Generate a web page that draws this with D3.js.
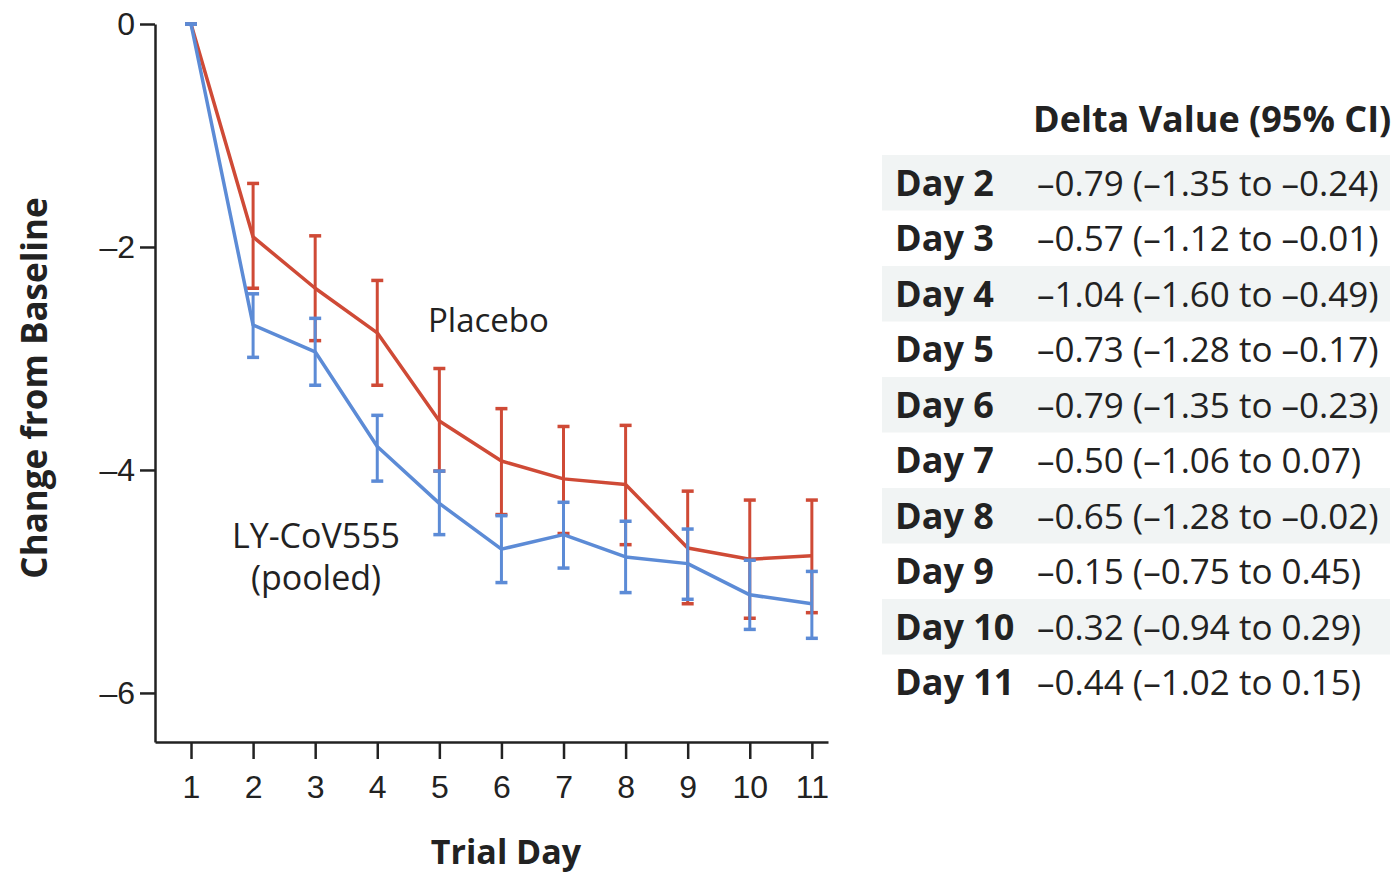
<!DOCTYPE html>
<html>
<head>
<meta charset="utf-8">
<script src="https://cdn.jsdelivr.net/npm/d3@7"></script>
<style>
  body { margin: 0; background: #fff; }
  svg { font-family: "Open Sans", sans-serif; }
  .axis path, .axis line { stroke: #222; stroke-width: 2.5; }
  .axis text { fill: #222; font-size: 32px; }
</style>
</head>
<body>
<svg width="1397" height="874"></svg>
<script>
// trial days
var days = [1, 2, 3, 4, 5, 6, 7, 8, 9, 10, 11];

// placebo: mean change and CI bounds
var placeboMean = [0, -1.91, -2.37, -2.77, -3.56, -3.92, -4.08, -4.13, -4.70, -4.80, -4.77];
var placeboLow  = [0, -2.37, -2.84, -3.24, -4.01, -4.40, -4.57, -4.67, -5.20, -5.33, -5.28];
var placeboHigh = [0, -1.43, -1.90, -2.30, -3.09, -3.45, -3.61, -3.60, -4.19, -4.27, -4.27];

// LY-CoV555 pooled
var lyMean = [0, -2.70, -2.94, -3.79, -4.30, -4.71, -4.58, -4.78, -4.84, -5.12, -5.20];
var lyLow  = [0, -2.99, -3.24, -4.10, -4.58, -5.01, -4.88, -5.10, -5.16, -5.43, -5.51];
var lyHigh = [0, -2.42, -2.64, -3.51, -4.01, -4.41, -4.29, -4.46, -4.53, -4.81, -4.91];

var yTicks = [0, -2, -4, -6];

// delta table
var tableDays = ["Day 2", "Day 3", "Day 4", "Day 5", "Day 6", "Day 7", "Day 8", "Day 9", "Day 10", "Day 11"];
var deltaVal  = [-0.79, -0.57, -1.04, -0.73, -0.79, -0.50, -0.65, -0.15, -0.32, -0.44];
var ciLow     = [-1.35, -1.12, -1.60, -1.28, -1.35, -1.06, -1.28, -0.75, -0.94, -1.02];
var ciHigh    = [-0.24, -0.01, -0.49, -0.17, -0.23, 0.07, -0.02, 0.45, 0.29, 0.15];

var red = "#cf4a36", blue = "#5c8bd6";

var svg = d3.select("svg");

var x = d3.scaleLinear().domain([0.42, 11.26]).range([155, 828]);
var y = d3.scaleLinear().domain([-6.44, 0]).range([742, 24]);

// axes
var yAxis = d3.axisLeft(y)
  .tickValues(yTicks)
  .tickSize(15)
  .tickSizeOuter(0)
  .tickPadding(5)
  .tickFormat(function(d){ return d === 0 ? "0" : "\u2013" + Math.abs(d); });

svg.append("g")
  .attr("class", "axis")
  .attr("transform", "translate(155,0)")
  .call(yAxis);

var xAxis = d3.axisBottom(x)
  .tickValues(days)
  .tickSize(17)
  .tickSizeOuter(0)
  .tickPadding(16);

svg.append("g")
  .attr("class", "axis")
  .attr("transform", "translate(0,742)")
  .call(xAxis);

// series
var series = [
  { name: "placebo", color: red, mean: placeboMean, lo: placeboLow, hi: placeboHigh },
  { name: "ly", color: blue, mean: lyMean, lo: lyLow, hi: lyHigh }
];

var line = d3.line()
  .x(function(d){ return x(d.day); })
  .y(function(d){ return y(d.v); });

series.forEach(function(s){
  var pts = days.map(function(d, i){ return { day: d, v: s.mean[i], lo: s.lo[i], hi: s.hi[i] }; });
  var g = svg.append("g").attr("class", "series " + s.name);

  g.append("path")
    .datum(pts)
    .attr("d", line)
    .attr("fill", "none")
    .attr("stroke", s.color)
    .attr("stroke-width", 3.5)
    .attr("stroke-linejoin", "round");

  var eb = g.selectAll(".eb").data(pts).enter().append("g").attr("class", "eb");
  eb.append("line")
    .attr("x1", function(d){ return x(d.day); })
    .attr("x2", function(d){ return x(d.day); })
    .attr("y1", function(d){ return y(d.lo); })
    .attr("y2", function(d){ return y(d.hi); })
    .attr("stroke", s.color).attr("stroke-width", 3);
  [ "lo", "hi" ].forEach(function(k){
    eb.append("line")
      .attr("x1", function(d){ return x(d.day) - 6; })
      .attr("x2", function(d){ return x(d.day) + 6; })
      .attr("y1", function(d){ return y(d[k]); })
      .attr("y2", function(d){ return y(d[k]); })
      .attr("stroke", s.color).attr("stroke-width", 3.5);
  });
});

// series labels
svg.append("text").attr("x", 428).attr("y", 332)
  .attr("font-size", 33).attr("fill", "#222").text("Placebo");
svg.append("text").attr("x", 316).attr("y", 548).attr("text-anchor", "middle")
  .attr("font-size", 34).attr("fill", "#222").text("LY-CoV555");
svg.append("text").attr("x", 316).attr("y", 590).attr("text-anchor", "middle")
  .attr("font-size", 34).attr("fill", "#222").text("(pooled)");

// axis titles
svg.append("text")
  .attr("transform", "translate(47,388) rotate(-90)")
  .attr("text-anchor", "middle")
  .attr("font-size", 35).attr("font-weight", "bold").attr("fill", "#222")
  .text("Change from Baseline");

svg.append("text")
  .attr("x", 506).attr("y", 864)
  .attr("text-anchor", "middle")
  .attr("font-size", 34).attr("font-weight", "bold").attr("fill", "#222")
  .text("Trial Day");

// table
var fmt = function(v){ return (v < 0 ? "\u2013" : "") + Math.abs(v).toFixed(2); };
var rowY = d3.scaleBand().domain(tableDays).range([155, 710]);

var tbl = svg.append("g").attr("class", "table");
tbl.append("text")
  .attr("x", 1033).attr("y", 132)
  .attr("font-size", 36).attr("font-weight", "bold").attr("fill", "#222")
  .text("Delta Value (95% CI)");

var rows = tbl.selectAll(".row").data(tableDays).enter().append("g").attr("class", "row");
rows.append("rect")
  .attr("x", 882).attr("width", 508)
  .attr("y", function(d){ return rowY(d); })
  .attr("height", rowY.bandwidth())
  .attr("fill", function(d, i){ return i % 2 === 0 ? "#f1f4f4" : "none"; });
rows.append("text")
  .attr("x", 895)
  .attr("y", function(d){ return rowY(d) + rowY.bandwidth() / 2 + 13; })
  .attr("font-size", 36).attr("font-weight", "bold").attr("fill", "#222")
  .text(function(d){ return d; });
rows.append("text")
  .attr("x", 1037)
  .attr("y", function(d){ return rowY(d) + rowY.bandwidth() / 2 + 13; })
  .attr("font-size", 35).attr("fill", "#222")
  .text(function(d, i){ return fmt(deltaVal[i]) + " (" + fmt(ciLow[i]) + " to " + fmt(ciHigh[i]) + ")"; });
</script>
</body>
</html>
